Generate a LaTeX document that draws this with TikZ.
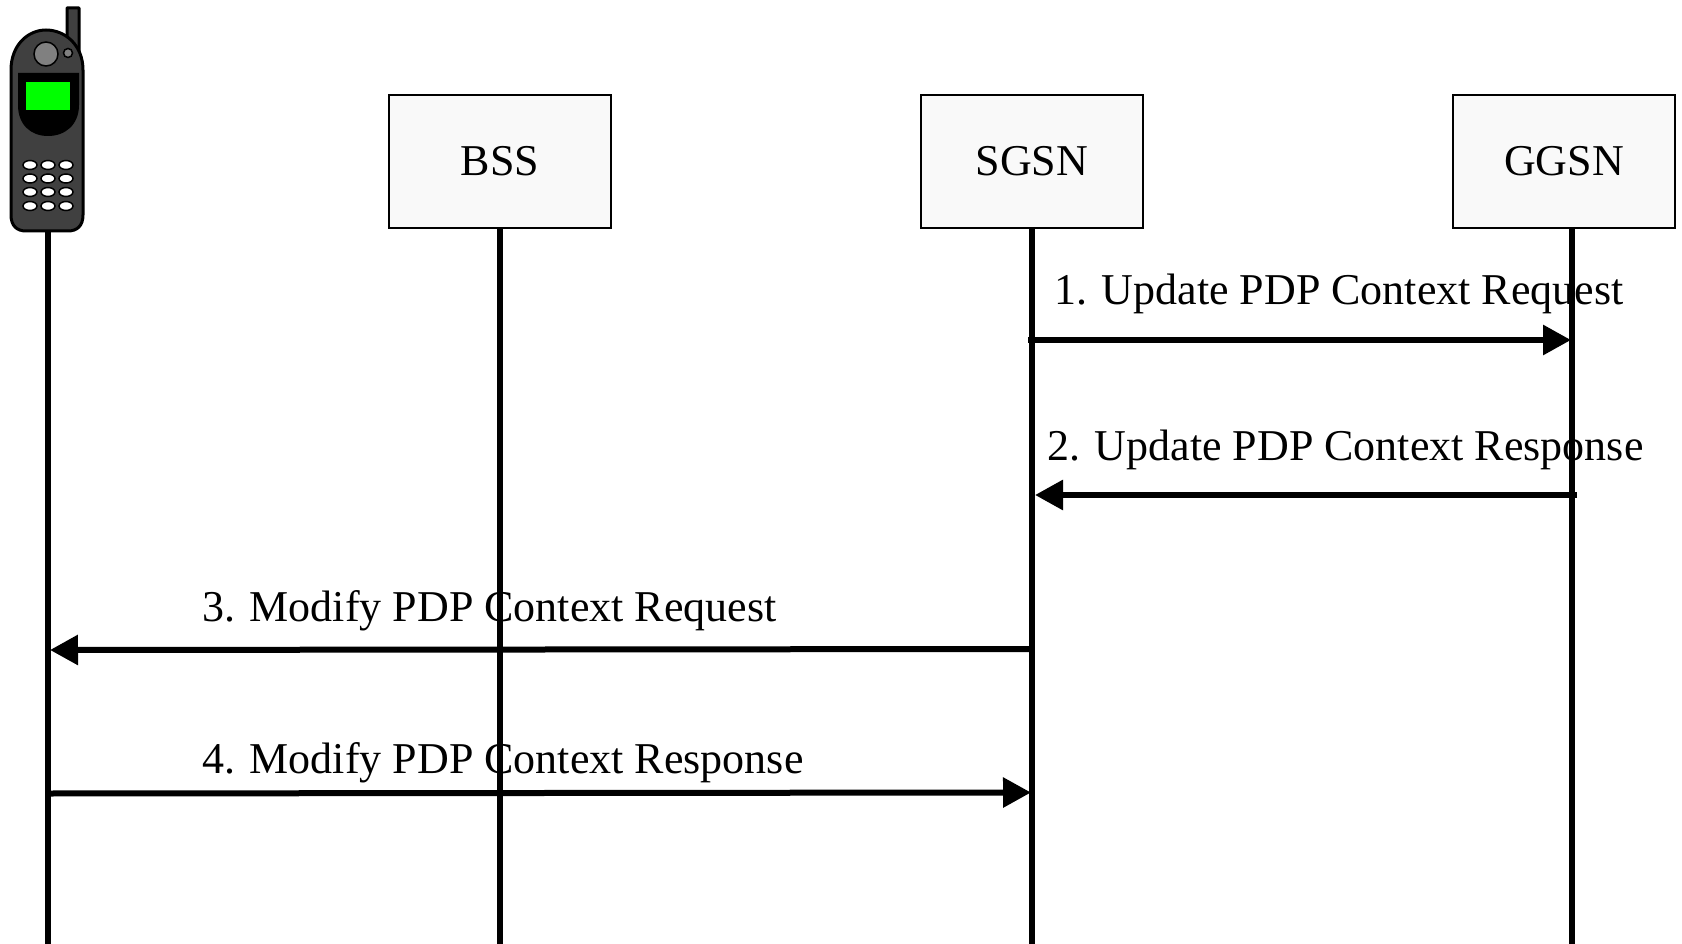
\documentclass[tikz,border=0pt]{standalone}
\usepackage{fontspec}
\setmainfont{Liberation Serif}
\usetikzlibrary{arrows.meta}
\definecolor{boxfill}{HTML}{F9F9F9}
\definecolor{phonebody}{HTML}{404040}
\definecolor{phonegrey}{HTML}{808080}
\tikzset{
  x=1pt,y=-1pt,
  entity/.style={draw=black,line width=2pt,fill=boxfill,minimum width=222pt,minimum height=133pt,inner sep=0pt,font=\fontsize{44}{44}\selectfont},
  lifeline/.style={line width=6pt,draw=black},
  msg/.style={line width=6pt,draw=black,-{Triangle[length=28pt,width=29pt]}},
  msglabel/.style={anchor=base west,inner sep=0pt,font=\fontsize{44}{44}\selectfont},
  phoneline/.style={draw=black,line width=3pt,line join=round},
  key/.style={draw=black,fill=white,line width=1.5pt},
}
\begin{document}
\begin{tikzpicture}
\useasboundingbox (0,0) rectangle (1682,944);
% labels (lifelines run over them)
\node[msglabel] (t1) at (1054,305) {1. Update PDP Context Request};
\node[msglabel] (t2) at (1047,460) {2. Update PDP Context Response};
\node[msglabel] (t3) at (202,621) {3. Modify PDP Context Request};
\node[msglabel] (t4) at (202,773) {4. Modify PDP Context Response};
% entities
\node[entity] (bss) at (500,161.5) {BSS};
\node[entity] (sgsn) at (1032,161.5) {SGSN};
\node[entity] (ggsn) at (1564,161.5) {GGSN};
% lifeline ends
\coordinate (mst) at (48,225);
\coordinate (mse) at (48,944);
\coordinate (ggt) at (1572,229);
\coordinate (gge) at (1572,944);
\coordinate (bse) at (500,944);
\coordinate (sge) at (1032,944);
\draw[lifeline] (mst) -- (mse);
\draw[lifeline] (bss.south) -- (bse);
\draw[lifeline] (sgsn.south) -- (sge);
\draw[lifeline] (ggt) -- (gge);
% messages
\coordinate (m1a) at (1028,340);
\coordinate (m1b) at (1571,340);
\coordinate (m2a) at (1577,495);
\coordinate (m2b) at (1035,495);
\coordinate (m3a) at (1032,649);
\coordinate (m3b) at (50,650);
\coordinate (m4a) at (48,793.5);
\coordinate (m4b) at (1031,792.5);
\draw[msg] (m1a) -- (m1b);
\draw[msg] (m2a) -- (m2b);
\draw[msg] (m3a) -- (m3b);
\draw[msg] (m4a) -- (m4b);
% phone
\draw[phoneline,fill=phonebody] (67,8) -- (79,8) -- (79,60) -- (67,45) -- cycle;
\draw[phoneline,fill=phonebody] (11,70)
  .. controls (11,45) and (28,30) .. (46,30)
  .. controls (65,30) and (83,45) .. (83,70)
  -- (83,215) .. controls (83,226) and (77,231) .. (68,231)
  -- (26,231) .. controls (17,231) and (11,226) .. (11,215) -- cycle;
\fill[black] (18,73) -- (79,73) -- (79,105)
  .. controls (79,125) and (65,136) .. (48,136)
  .. controls (31,136) and (18,125) .. (18,105) -- cycle;
\fill[green] (26,82) rectangle (70,110);
\draw[draw=black,line width=1.5pt,fill=phonegrey] (46,54) circle (12);
\draw[draw=black,line width=1.5pt,fill=phonegrey] (68,53) circle (4.5);
\foreach \ky in {165,178.5,192,206}
  \foreach \kx in {30,48,66}
    \draw[key] (\kx,\ky) ellipse (7 and 4.5);
\end{tikzpicture}
\end{document}
